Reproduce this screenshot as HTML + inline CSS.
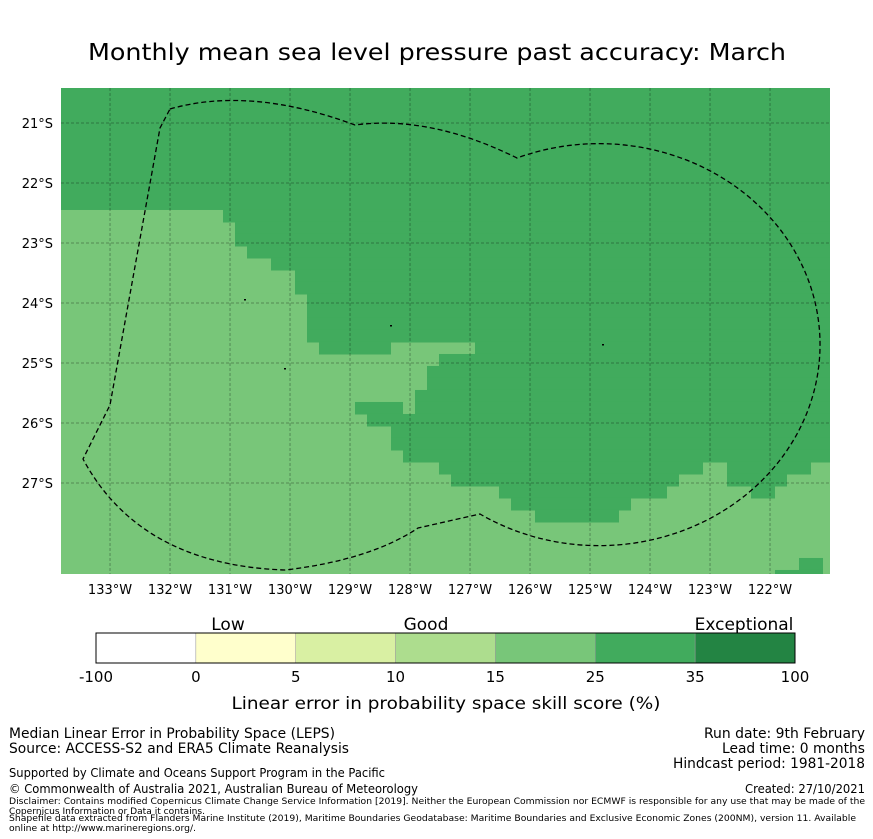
<!DOCTYPE html>
<html><head><meta charset="utf-8"><style>
html,body{margin:0;padding:0;background:#fff;}
svg{display:block;font-family:"DejaVu Sans","Liberation Sans",sans-serif;}
</style></head><body>
<svg id="chart" width="873" height="839" viewBox="0 0 873 839" xmlns="http://www.w3.org/2000/svg">
<text x="437" y="60" text-anchor="middle" font-size="23" textLength="698" lengthAdjust="spacingAndGlyphs">Monthly mean sea level pressure past accuracy: March</text>
<defs><clipPath id="mapclip"><rect x="61" y="88" width="769" height="486"/></clipPath></defs>
<g id="map" clip-path="url(#mapclip)"></g>
<g id="axes"></g>
<g id="cbar"></g>
<text x="446" y="709" text-anchor="middle" font-size="17" textLength="429" lengthAdjust="spacingAndGlyphs">Linear error in probability space skill score (%)</text>
<g font-size="14">
<text x="9" y="738" textLength="326" lengthAdjust="spacingAndGlyphs">Median Linear Error in Probability Space (LEPS)</text>
<text x="9" y="753" textLength="340" lengthAdjust="spacingAndGlyphs">Source: ACCESS-S2 and ERA5 Climate Reanalysis</text>
<text x="865" y="738" text-anchor="end" textLength="161" lengthAdjust="spacingAndGlyphs">Run date: 9th February</text>
<text x="865" y="753" text-anchor="end" textLength="143" lengthAdjust="spacingAndGlyphs">Lead time: 0 months</text>
<text x="865" y="768" text-anchor="end" textLength="192" lengthAdjust="spacingAndGlyphs">Hindcast period: 1981-2018</text>
<text x="9" y="777" font-size="12.5" textLength="376" lengthAdjust="spacingAndGlyphs">Supported by Climate and Oceans Support Program in the Pacific</text>
<text x="9" y="793" font-size="12.5" textLength="409" lengthAdjust="spacingAndGlyphs">© Commonwealth of Australia 2021, Australian Bureau of Meteorology</text>
<text x="865" y="793" text-anchor="end" font-size="12.5" textLength="120" lengthAdjust="spacingAndGlyphs">Created: 27/10/2021</text>
<g font-size="9">
<text x="9" y="804" textLength="856" lengthAdjust="spacingAndGlyphs">Disclaimer: Contains modified Copernicus Climate Change Service Information [2019]. Neither the European Commission nor ECMWF is responsible for any use that may be made of the</text>
<text x="9" y="814" textLength="196" lengthAdjust="spacingAndGlyphs">Copernicus Information or Data it contains.</text>
<text x="9" y="821" textLength="847" lengthAdjust="spacingAndGlyphs">Shapefile data extracted from Flanders Marine Institute (2019), Maritime Boundaries Geodatabase: Maritime Boundaries and Exclusive Economic Zones (200NM), version 11. Available</text>
<text x="9" y="831" textLength="187" lengthAdjust="spacingAndGlyphs">online at http://www.marineregions.org/.</text>
</g></g>
</svg>
<script>
// Map extent
const lonMin=-133.817, lonMax=-121.0, latMax=-20.417, latMin=-28.517;
const lonTicks=[-133,-132,-131,-130,-129,-128,-127,-126,-125,-124,-123,-122];
const latTicks=[-21,-22,-23,-24,-25,-26,-27];
// Dark (25-35) region: full band at top, then per-row intervals (lon)
const topBandLatBottom=-22.45;
const rowLats=[-22.45,-22.65,-22.85,-23.05,-23.25,-23.45,-23.65,-23.85,-24.05,-24.25,-24.45,-24.65,-24.85,-25.05,-25.25,-25.45,-25.65,-25.85,-26.05,-26.25,-26.45,-26.65,-26.85,-27.05,-27.25,-27.45,-27.65,-27.85,-28.05,-28.25,-28.45];
const rowDark=[
 [[-131.117,-121]],[[-130.917,-121]],[[-130.917,-121]],[[-130.717,-121]],[[-130.317,-121]],
 [[-129.917,-121]],[[-129.917,-121]],[[-129.717,-121]],[[-129.717,-121]],[[-129.717,-121]],[[-129.717,-121]],
 [[-129.517,-128.317],[-126.917,-121]],[[-127.517,-121]],[[-127.717,-121]],[[-127.717,-121]],[[-127.917,-121]],
 [[-128.917,-128.117],[-127.917,-121]],[[-128.717,-121]],[[-128.317,-121]],[[-128.317,-121]],[[-128.117,-121]],
 [[-127.517,-123.117],[-122.717,-121.317]],[[-127.317,-123.517],[-122.717,-121.717]],[[-126.517,-123.717],[-122.317,-121.917]],
 [[-126.317,-124.317]],[[-125.917,-124.517]],[],[],[],[[-121.517,-121.117]],[[-121.917,-121.117]]
];
const binEdges=["-100","0","5","10","15","25","35","100"];
const binColors=["#ffffff","#ffffcc","#d9f0a3","#addd8e","#78c679","#41ab5d","#238443"];
const NS="http://www.w3.org/2000/svg";
const X=lon=>61+(lon-lonMin)*60, Y=lat=>88+(latMax-lat)*60;
function mk(tag,attrs,parent){const e=document.createElementNS(NS,tag);for(const k in attrs)e.setAttribute(k,attrs[k]);parent.appendChild(e);return e;}
const map=document.getElementById('map'), axes=document.getElementById('axes'), cbar=document.getElementById('cbar');
let r=mk('rect',{x:61,y:88,width:769,height:486,fill:'#78c679'},map);


r=mk('rect',{x:X(lonMin),y:Y(latMax),width:X(lonMax)-X(lonMin),height:Y(topBandLatBottom)-Y(latMax),fill:'#41ab5d'},map);


rowLats.forEach((lat,i)=>{
  rowDark[i].forEach(iv=>{
    const c=mk('rect',{x:X(iv[0]),y:Y(lat),width:X(iv[1])-X(iv[0]),height:Y(lat-0.2)-Y(lat)+0.5,fill:'#41ab5d'},map);
    
    
  });
});
lonTicks.forEach(l=>{
  const g=mk('line',{x1:X(l),x2:X(l),y1:88,y2:574,stroke:'#000','stroke-opacity':0.3,'stroke-width':1,'stroke-dasharray':'3,2'},map);
  
  
  const t=mk('text',{x:X(l),y:594,'text-anchor':'middle','font-size':13},axes);
  t.textContent=Math.abs(l)+'°W';
  
  
});
latTicks.forEach(l=>{
  const g=mk('line',{x1:61,x2:830,y1:Y(l),y2:Y(l),stroke:'#000','stroke-opacity':0.3,'stroke-width':1,'stroke-dasharray':'3,2'},map);
  
  
  const t=mk('text',{x:53,y:Y(l)+5,'text-anchor':'end','font-size':13},axes);
  t.textContent=Math.abs(l)+'°S';
  
  
});
let p=mk('path',{d:'M170,109 Q250,86 355,125 Q430,115 517,158 A221 201 0 1 1 480,514 L418,528 Q370,560 285,570 Q140,565 83,459 L110,405 L160,128 Z',fill:'none',stroke:'#000','stroke-width':1.3,'stroke-dasharray':'5,3'},map);


[[244,299],[284,368],[390,325],[602,344]].forEach(pt=>{
  const d=mk('rect',{x:pt[0],y:pt[1],width:2,height:1.5,fill:'#000'},map);
  
  
});
// colorbar
const cbX=96,cbW=699,cbY=633,cbH=30,seg=cbW/binColors.length;
binColors.forEach((c,i)=>{
  const s=mk('rect',{x:cbX+i*seg,y:cbY,width:seg,height:cbH,fill:c,stroke:'#999','stroke-width':0.5},cbar);
  
  
});
const ob=mk('rect',{x:cbX,y:cbY,width:cbW,height:cbH,fill:'none',stroke:'#000','stroke-width':1},cbar);


binEdges.forEach((v,i)=>{
  const t=mk('text',{x:cbX+i*seg,y:682,'text-anchor':'middle','font-size':15},cbar);
  t.textContent=v;
  
  
});
[["Low",228],["Good",426],["Exceptional",744]].forEach(a=>{
  const t=mk('text',{x:a[1],y:630,'text-anchor':'middle','font-size':17},cbar);
  t.textContent=a[0];
  
  
});
</script>
</body></html>
